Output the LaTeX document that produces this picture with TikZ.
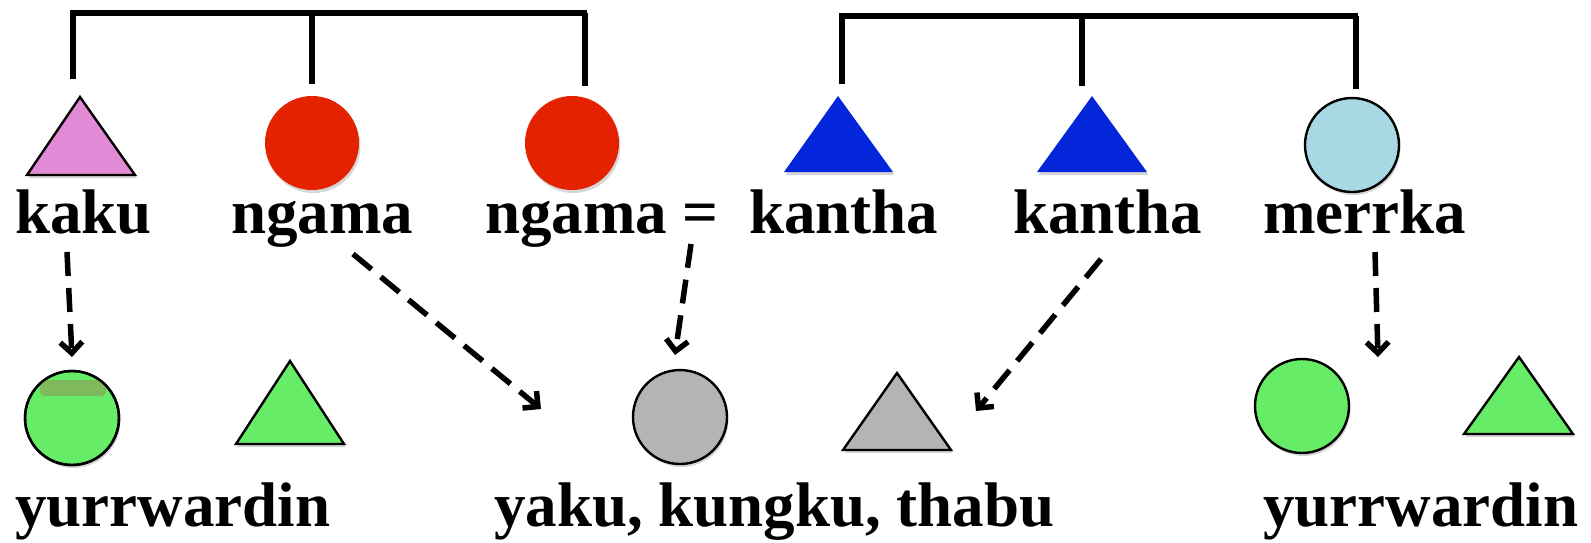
\documentclass[tikz,border=0pt]{standalone}
\usepackage{fontspec}
\setmainfont{Liberation Serif}
\usetikzlibrary{arrows.meta,shadows}
\definecolor{kakupink}{RGB}{226,138,214}
\definecolor{ngamared}{RGB}{229,34,0}
\definecolor{kanthablue}{RGB}{4,38,218}
\definecolor{merrkablue}{RGB}{168,216,228}
\definecolor{yurrgreen}{RGB}{102,236,102}
\definecolor{yurrpatch}{RGB}{126,186,92}
\definecolor{yakugray}{RGB}{180,180,180}
\begin{document}
\begin{tikzpicture}[x=1pt,y=-1pt,
  bracket/.style={line width=6pt},
  descent/.style={line width=5.5pt, dash pattern=on 24pt off 12pt,
    -{Straight Barb[length=11pt,width=22pt]}},
  term/.style={anchor=base west, inner sep=0pt,
    font=\fontsize{63}{70}\selectfont\bfseries},
  outlined/.style={draw=black, line width=2.4pt},
  soft/.style={drop shadow={shadow xshift=1.5pt, shadow yshift=-3pt,
    opacity=0.16, fill=black}},
  disc/.style={circle, minimum size=94pt, inner sep=0pt, soft}
]
\useasboundingbox (0,0) rectangle (1591,542);

% ---- sibling brackets ----
\draw[bracket] (73,79) |- (587,13);
\draw[bracket] (312,13) -- (312,84);
\draw[bracket] (585,13) -- (585,86);
\draw[bracket] (842,84) |- (1358,16);
\draw[bracket] (1082,16) -- (1082,86);
\draw[bracket] (1356,16) -- (1356,89);

% ---- senior generation ----
\filldraw[fill=kakupink, outlined, soft] (27,175) -- (80,97) -- (135,175) -- cycle;
\node[disc, fill=ngamared] (ngamaA) at (312,143) {};
\node[disc, fill=ngamared] (ngamaB) at (572,143) {};
\fill[kanthablue, soft] (784,172) -- (838,96) -- (893,172) -- cycle;
\fill[kanthablue, soft] (1037,172) -- (1092,96) -- (1147,172) -- cycle;
\node[disc, fill=merrkablue, outlined] (merrkaC) at (1352,145) {};

\node[term] (kaku)    at (15,233)   {kaku};
\node[term] (ngama1)  at (231,233)  {ngama};
\node[term] (ngama2)  at (485,233)  {ngama =};
\node[term] (kantha1) at (749,233)  {kantha};
\node[term] (kantha2) at (1013,233) {kantha};
\node[term] (merrka)  at (1263,233) {merrka};

% ---- junior generation ----
\node[disc, fill=yurrgreen, outlined] (yurrA) at (72,418) {};
\begin{scope}
  \clip (72,418) circle (46pt);
  \fill[yurrpatch, rounded corners=4pt] (40,380) rectangle (106,396);
\end{scope}
\draw[outlined] (72,418) circle (47pt);
\filldraw[fill=yurrgreen, outlined, soft] (236,444) -- (290,361) -- (344,444) -- cycle;
\node[disc, fill=yakugray, outlined] (yakuC) at (680,417) {};
\filldraw[fill=yakugray, outlined, soft] (843,450) -- (897,373) -- (951,450) -- cycle;
\node[disc, fill=yurrgreen, outlined] (yurrB) at (1302,406) {};
\filldraw[fill=yurrgreen, outlined, soft] (1464,434) -- (1519,357) -- (1573,434) -- cycle;

\node[term] (yurr1) at (15,526)   {yurrwardin};
\node[term] (yaku)  at (494,526)  {yaku, kungku, thabu};
\node[term] (yurr2) at (1263,526) {yurrwardin};

% ---- descent arrows ----
\coordinate (d1s) at (67,252);   \coordinate (d1e) at (72,357);
\coordinate (d2s) at (353,254);  \coordinate (d2e) at (541,409);
\coordinate (d3s) at (691,244);  \coordinate (d3e) at (675,355);
\coordinate (d4s) at (1101,259); \coordinate (d4e) at (976,411);
\coordinate (d5s) at (1375,252); \coordinate (d5e) at (1378,357);
\draw[descent] (d1s) -- (d1e);
\draw[descent] (d2s) -- (d2e);
\draw[descent] (d3s) -- (d3e);
\draw[descent] (d4s) -- (d4e);
\draw[descent] (d5s) -- (d5e);
\end{tikzpicture}
\end{document}
